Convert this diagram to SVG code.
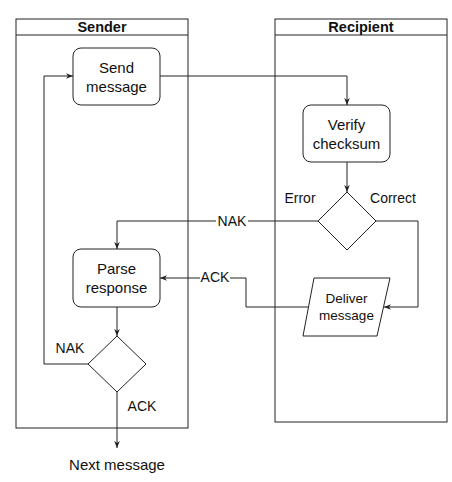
<svg xmlns="http://www.w3.org/2000/svg" width="452" height="482" viewBox="0 0 452 482">
<style>
.lane{fill:none;stroke:#222;stroke-width:1}
.node{fill:#fff;stroke:#222;stroke-width:1}
.t{font-family:"Liberation Sans",Arial,sans-serif;font-size:15px;fill:#111;text-anchor:middle;dominant-baseline:central}
.e{font-family:"Liberation Sans",Arial,sans-serif;font-size:14px;fill:#111;text-anchor:middle;dominant-baseline:central}
.h{font-family:"Liberation Sans",Arial,sans-serif;font-size:14.5px;font-weight:bold;fill:#111;text-anchor:middle;dominant-baseline:central}
.c{fill:none;stroke:#222;stroke-width:1}
.lbl{fill:#fff}
</style>
<defs>
<marker id="arr" viewBox="0 0 10 10" refX="10" refY="5" markerWidth="7" markerHeight="7" orient="auto" markerUnits="userSpaceOnUse">
<path d="M0,1 L10,5 L0,9 L3,5 Z" fill="#222"/>
</marker>
</defs>
<rect width="452" height="482" fill="#fff"/>
<g id="lane-sender">
<rect class="lane" x="16" y="19" width="172" height="409"/>
<line class="lane" x1="16" y1="35" x2="188" y2="35"/>
<text class="h" x="102" y="27">Sender</text>
</g>
<g id="lane-recipient">
<rect class="lane" x="275" y="19" width="172" height="403"/>
<line class="lane" x1="275" y1="35" x2="447" y2="35"/>
<text class="h" x="361" y="27">Recipient</text>
</g>
<g id="connectors">
<path class="c" d="M160,76 H347 V105" marker-end="url(#arr)"/>
<path class="c" d="M347,162 V192" marker-end="url(#arr)"/>
<path class="c" d="M318,221 H117 V249" marker-end="url(#arr)"/>
<rect class="lbl" x="216" y="213" width="32" height="16"/>
<text class="e" x="232" y="221">NAK</text>
<path class="c" d="M376,221 H418 V307 H384" marker-end="url(#arr)"/>
<path class="c" d="M308,307 H246 V278 H160" marker-end="url(#arr)"/>
<rect class="lbl" x="200" y="270" width="30" height="16"/>
<text class="e" x="215" y="277">ACK</text>
<path class="c" d="M117,307 V336" marker-end="url(#arr)"/>
<path class="c" d="M88,364 H44 V76 H73" marker-end="url(#arr)"/>
<path class="c" d="M117,392 V448" marker-end="url(#arr)"/>
<text class="e" x="300" y="198">Error</text>
<text class="e" x="393" y="198">Correct</text>
<text class="e" x="70" y="348">NAK</text>
<text class="e" x="142" y="406">ACK</text>
</g>
<g id="send-message">
<rect class="node" x="73" y="48" width="87" height="57" rx="8"/>
<text class="t" x="116.5" y="67">Send</text>
<text class="t" x="116.5" y="86">message</text>
</g>
<g id="verify-checksum">
<rect class="node" x="303" y="105" width="87" height="57" rx="8"/>
<text class="t" x="346.5" y="124">Verify</text>
<text class="t" x="346.5" y="143">checksum</text>
</g>
<g id="decision-checksum">
<polygon class="node" points="347,192 376,221 347,250 318,221"/>
</g>
<g id="parse-response">
<rect class="node" x="73" y="249" width="87" height="58" rx="8"/>
<text class="t" x="116.5" y="268">Parse</text>
<text class="t" x="116.5" y="287">response</text>
</g>
<g id="deliver-message">
<polygon class="node" points="314,278 390,278 377,336 303,336"/>
<text class="t" x="346.5" y="298" style="font-size:13.5px">Deliver</text>
<text class="t" x="346.5" y="315" style="font-size:13.5px">message</text>
</g>
<g id="decision-response">
<polygon class="node" points="117,336 146,364 117,392 88,364"/>
</g>
<g id="next-message">
<text class="t" x="117" y="464">Next message</text>
</g>
</svg>
